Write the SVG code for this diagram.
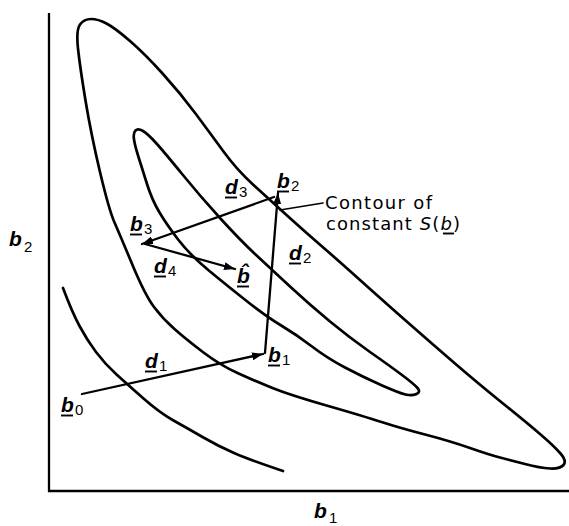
<svg xmlns="http://www.w3.org/2000/svg" width="569" height="526" viewBox="0 0 569 526">
<style>
.c{fill:none;stroke:#000;stroke-width:2.7;stroke-linecap:round;stroke-linejoin:round}
.a{fill:none;stroke:#000;stroke-width:2.3;stroke-linecap:round}
.ax{fill:none;stroke:#000;stroke-width:2.3}
.v{font-family:"Liberation Sans",Arial,sans-serif;font-size:21px;font-style:italic;font-weight:bold;fill:#000}
.s{font-family:"Liberation Sans",Arial,sans-serif;font-size:15px;fill:#000}
.t{font-family:"DejaVu Sans","Liberation Sans",sans-serif;font-size:18px;fill:#000}
.u{stroke:#000;stroke-width:1.9}
</style>
<defs>
<marker id="ah" markerUnits="userSpaceOnUse" markerWidth="12" markerHeight="8" refX="11" refY="4" orient="auto">
<path d="M0,0 L11,4 L0,8 z" fill="#000"/>
</marker>
</defs>
<rect width="569" height="526" fill="#fff"/>
<g id="axes">
<path class="ax" d="M49,13 V491 H569"/>
</g>
<g id="contour-outer">
<path class="c" d="M 78,48.5 Q 76,30 80,24.5 Q 84,19 91,19 Q 98,19 106.5,23.5 Q 115,28 130,41 Q 145,54 163,74 Q 181,94 195.5,113.5 Q 210,133 223.5,151.5 Q 237,170 253.5,185 Q 270,200 286.5,215 Q 303,230 321.5,246 Q 340,262 360,280 Q 380,298 405,320 Q 430,342 455,363.5 Q 480,385 503,403.5 Q 526,422 540,434 Q 554,446 560.5,453.5 Q 567,461 563.5,465 Q 560,469 550,468.5 Q 540,468 525,464 Q 510,460 500,457.5 Q 490,455 470,448 Q 450,441 425,434.5 Q 400,428 381.5,422 Q 363,416 326.5,405.5 Q 290,395 272.5,388 Q 255,381 237.5,373 Q 220,365 203.5,352.5 Q 187,340 175,329.5 Q 163,319 154,307 Q 145,295 132.5,265 Q 120,235 114.5,222.5 Q 109,210 100,172 Q 91,134 85.5,100.5 Q 80,67 78,48.5 Z"/>
</g>
<g id="contour-inner">
<path class="c" d="M 135.5,130.5 Q 138,128 143,131 Q 148,134 156.5,143.5 Q 165,153 182.5,174.5 Q 200,196 220,218 Q 240,240 255,254 Q 270,268 290,286.5 Q 310,305 330,321.5 Q 350,338 370,352 Q 390,366 402,375 Q 414,384 417.5,388 Q 421,392 416.5,394 Q 412,396 405.5,394.5 Q 399,393 381,385 Q 363,377 345,367.5 Q 327,358 312,346.5 Q 297,335 282,326 Q 267,317 248.5,302.5 Q 230,288 210,271.5 Q 190,255 178.5,240 Q 167,225 159.5,212.5 Q 152,200 147,184 Q 142,168 138.5,157 Q 135,146 134,139.5 Q 133,133 135.5,130.5 Z"/>
</g>
<g id="contour-low">
<path class="c" d="M 63,288 Q 72,312 79.5,326 Q 87,340 96,352 Q 105,364 116,374 Q 127,384 143.5,398.5 Q 160,413 173.5,420.5 Q 187,428 202.5,437 Q 218,446 234,453 Q 250,460 283,471"/>
</g>
<g id="connectors">
<line class="a" x1="82" y1="394" x2="263" y2="354" marker-end="url(#ah)"/>
<line class="a" x1="265" y1="353" x2="278" y2="193" marker-end="url(#ah)"/>
<line class="a" x1="274" y1="197" x2="142" y2="244" marker-end="url(#ah)"/>
<line class="a" x1="145" y1="244" x2="235" y2="269" marker-end="url(#ah)"/>
<line class="a" x1="280" y1="210" x2="323" y2="203" style="stroke-width:1.7"/>
</g>
<g id="label-axis-b2">
<text class="v" x="9" y="246">b</text><text class="s" x="24" y="252">2</text>
</g>
<g id="label-axis-b1">
<text class="v" x="314" y="518">b</text><text class="s" x="329" y="523">1</text>
</g>
<g id="node-b0">
<text class="v" x="61" y="412">b</text><text class="s" x="75" y="415">0</text>
<line class="u" x1="61" y1="415.5" x2="73" y2="415.5"/>
</g>
<g id="node-b1">
<text class="v" x="268" y="362">b</text><text class="s" x="282" y="365">1</text>
<line class="u" x1="268" y1="365.5" x2="280" y2="365.5"/>
</g>
<g id="node-b2">
<text class="v" x="277" y="188">b</text><text class="s" x="291" y="191">2</text>
<line class="u" x1="277" y1="191.5" x2="289" y2="191.5"/>
</g>
<g id="node-b3">
<text class="v" x="130" y="231">b</text><text class="s" x="144" y="234">3</text>
<line class="u" x1="130" y1="234.5" x2="142" y2="234.5"/>
</g>
<g id="node-bhat">
<text class="v" x="237" y="283">b̂</text>
<line class="u" x1="237" y1="286.5" x2="249" y2="286.5"/>
</g>
<g id="label-d1">
<text class="v" x="145" y="368">d</text><text class="s" x="159" y="371">1</text>
<line class="u" x1="145" y1="371.5" x2="157" y2="371.5"/>
</g>
<g id="label-d2">
<text class="v" x="289" y="260">d</text><text class="s" x="303" y="263">2</text>
<line class="u" x1="289" y1="263.5" x2="301" y2="263.5"/>
</g>
<g id="label-d3">
<text class="v" x="225" y="194">d</text><text class="s" x="239" y="197">3</text>
<line class="u" x1="225" y1="197.5" x2="237" y2="197.5"/>
</g>
<g id="label-d4">
<text class="v" x="154" y="273">d</text><text class="s" x="168" y="276">4</text>
<line class="u" x1="154" y1="276.5" x2="166" y2="276.5"/>
</g>
<g id="label-contour">
<text class="t" x="325" y="209" textLength="107" lengthAdjust="spacing">Contour of</text>
<text class="t" x="326" y="230" textLength="134" lengthAdjust="spacing">constant <tspan font-style="italic">S</tspan>(<tspan font-style="italic">b</tspan>)</text>
<line class="u" x1="443" y1="233.5" x2="454" y2="233.5"/>
</g>
</svg>
